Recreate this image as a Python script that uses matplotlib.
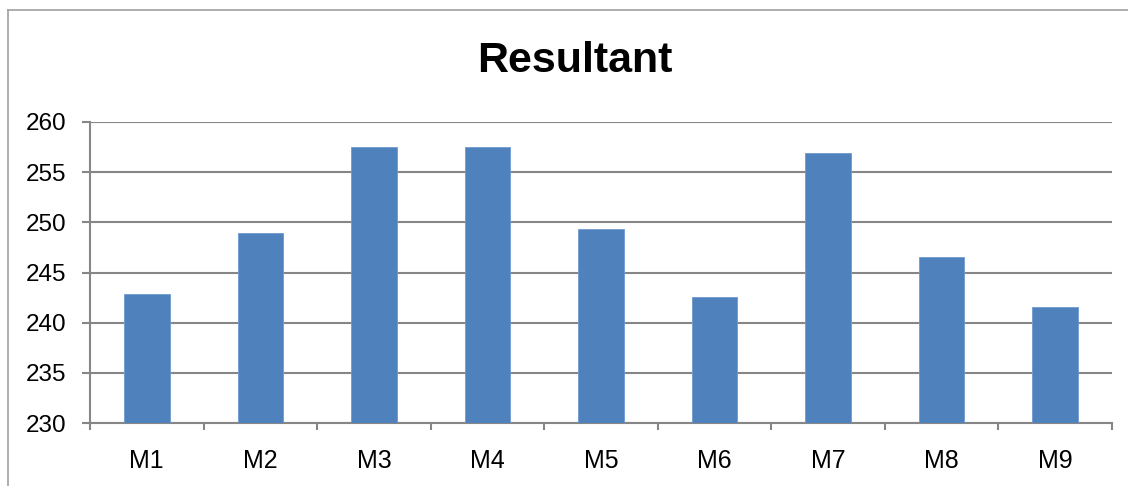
import matplotlib.pyplot as plt
from matplotlib.lines import Line2D
import numpy as np

categories = ["M1", "M2", "M3", "M4", "M5", "M6", "M7", "M8", "M9"]
resultant = [242.9, 248.9, 257.5, 257.5, 249.3, 242.6, 256.9, 246.5, 241.6]
y_ticks = [230, 235, 240, 245, 250, 255, 260]

bar_color = "#4F81BD"
grid_color = "#868686"

plt.rcParams["font.family"] = ["Liberation Sans", "DejaVu Sans"]

fig = plt.figure(figsize=(11.28, 4.86), dpi=100)
ax = fig.add_axes([0.0798, 0.1296, 0.9060, 0.6194])

x = np.arange(len(categories))
ax.bar(x, resultant, width=0.4, color=bar_color, edgecolor="#6E9BD0",
       linewidth=0.6, zorder=3)

ax.set_xlim(-0.5, len(categories) - 0.5)
ax.set_ylim(230, 260)
ax.set_yticks(y_ticks)
ax.set_yticklabels([str(t) for t in y_ticks])
ax.yaxis.grid(True, color=grid_color, linewidth=1.5, zorder=0)

# labels sit in the middle, tick marks sit between the categories
ax.set_xticks(x)
ax.set_xticklabels(categories)
ax.set_xticks(np.arange(-0.5, len(categories)), minor=True)
ax.tick_params(axis="x", which="major", length=0, pad=19, labelsize=18)
ax.tick_params(axis="x", which="minor", length=5, width=1.5, color=grid_color,
               direction="out")
ax.tick_params(axis="y", length=6, width=1.5, color=grid_color, pad=11,
               labelsize=17.5)

for side in ["top", "right"]:
    ax.spines[side].set_visible(False)
for side in ["left", "bottom"]:
    ax.spines[side].set_color(grid_color)
    ax.spines[side].set_linewidth(1.5)

fig.text(0.51, 0.875, "Resultant", ha="center", va="center", fontsize=31,
         fontweight="bold")

# outer chart frame, only the top and left edges show
fig.add_artist(Line2D([8 / 1128, 8 / 1128], [0, 1 - 10 / 486],
                      color="#A0A0A0", linewidth=1.2))
fig.add_artist(Line2D([8 / 1128, 1], [1 - 10 / 486, 1 - 10 / 486],
                      color="#A0A0A0", linewidth=1.2))

fig.savefig("out.png", dpi=100)
